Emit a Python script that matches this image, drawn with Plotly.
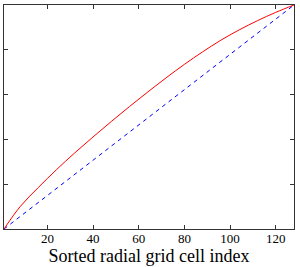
import plotly.graph_objects as go

idx = [1, 8, 16, 24, 32, 40, 48, 56, 64, 72, 80, 88, 96, 104, 112, 120, 128]
red_vals = [0.0, 0.099, 0.185, 0.265, 0.340, 0.411, 0.480, 0.547, 0.612, 0.675, 0.735,
            0.791, 0.843, 0.889, 0.930, 0.967, 1.0]
diag_x = [1, 128]
diag_y = [0.0, 1.0]
x_ticks = [20, 40, 60, 80, 100, 120]
y_ticks = [0, 0.2, 0.4, 0.6, 0.8, 1.0]

fig = go.Figure()
fig.add_trace(go.Scatter(x=diag_x, y=diag_y, mode="lines",
                         line=dict(color="#0000ff", width=1, dash="4px,4px")))
fig.add_trace(go.Scatter(x=idx, y=red_vals, mode="lines",
                         line=dict(color="#ff0000", width=1, shape="spline", smoothing=1.0)))

axis_common = dict(showline=True, linecolor="#333333", linewidth=1, mirror="ticks",
                   ticks="inside", ticklen=4, tickcolor="#333333", showgrid=False,
                   zeroline=False)
fig.update_xaxes(range=[1, 128], tickvals=x_ticks, ticktext=[str(v) for v in x_ticks],
                 tickfont=dict(family="Liberation Serif", size=13, color="black"),
                 ticklabelstandoff=-3,
                 title=dict(text="Sorted radial grid cell index", standoff=2,
                            font=dict(family="Liberation Serif", size=18, color="black")),
                 **axis_common)
fig.update_yaxes(range=[0, 1], tickvals=y_ticks, showticklabels=False, **axis_common)
fig.update_layout(width=300, height=267, showlegend=False,
                  margin=dict(l=4, r=6, t=5, b=38, autoexpand=False),
                  plot_bgcolor="white", paper_bgcolor="white")
fig.write_html("out.html", config={"displayModeBar": False},
               post_script="document.body.style.margin='0';")
